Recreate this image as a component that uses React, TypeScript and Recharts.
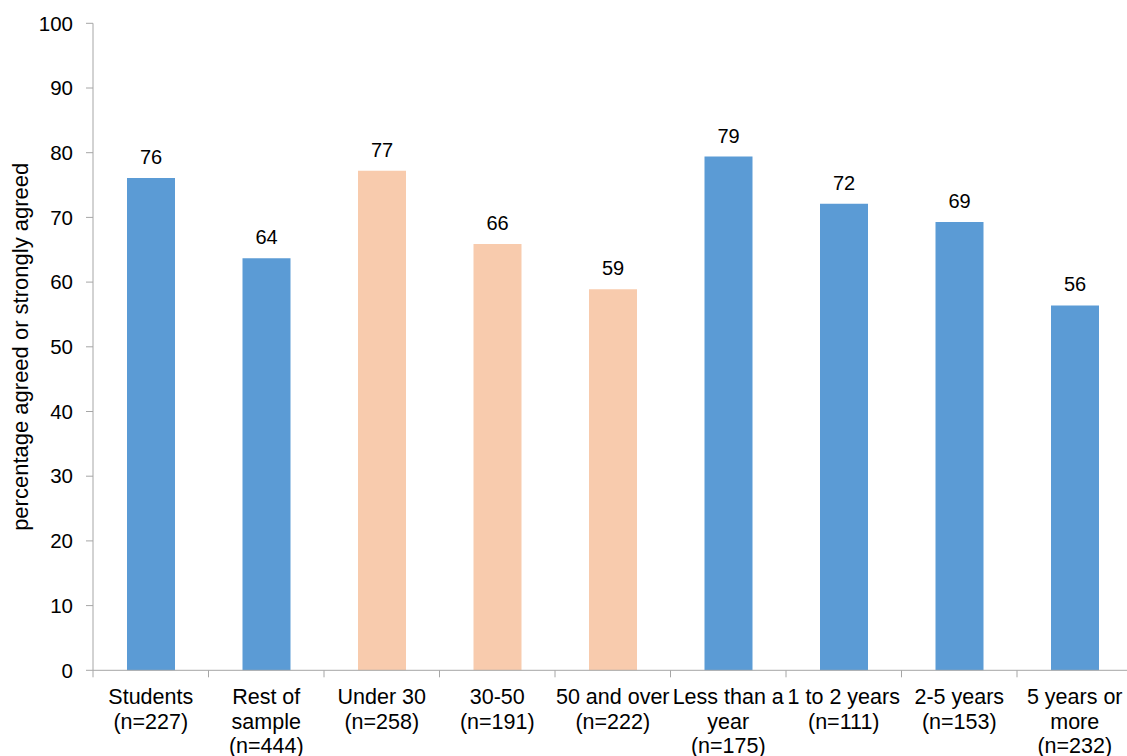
import React from "react";
import { BarChart, Bar, XAxis, YAxis, Cell, LabelList } from "recharts";

const FONT = '"Liberation Sans", Arial, sans-serif';
const AXIS_GREY = "#a6a6a6";
const BLUE = "#5b9bd5";
const PEACH = "#f8cbad";

// category labels, line breaks where the axis wraps them
const categories = [
  "Students\n(n=227)",
  "Rest of\nsample\n(n=444)",
  "Under 30\n(n=258)",
  "30-50\n(n=191)",
  "50 and over\n(n=222)",
  "Less than a\nyear\n(n=175)",
  "1 to 2 years\n(n=111)",
  "2-5 years\n(n=153)",
  "5 years or\nmore\n(n=232)",
];

// percentage agreed or strongly agreed
const agreed = [76.1, 63.7, 77.2, 65.9, 58.9, 79.4, 72.1, 69.3, 56.4];

// which breakdown each bar belongs to
const groups = ["status", "status", "age", "age", "age", "time", "time", "time", "time"];

const yTicks = [0, 10, 20, 30, 40, 50, 60, 70, 80, 90, 100];

const data = categories.map((name, i) => ({ name, value: agreed[i], group: groups[i] }));

const CHART_W = 1140;
const CHART_H = 756;
const Y_AXIS_W = 93;
const RIGHT = 7.5;
const BAND = (CHART_W - Y_AXIS_W - RIGHT) / categories.length;

function CategoryTick(props: any) {
  const { x, y, payload, index } = props;
  const lines = String(payload.value).split("\n");
  const left = x - BAND / 2;
  return (
    <g>
      <line x1={left} x2={left} y1={y} y2={y + 7} stroke={AXIS_GREY} />
      {index === categories.length - 1 && (
        <line x1={left + BAND} x2={left + BAND} y1={y} y2={y + 7} stroke={AXIS_GREY} />
      )}
      <text x={x} y={y + 34} textAnchor="middle" fontSize={21.5} fontFamily={FONT} fill="#000">
        {lines.map((l, i) => (
          <tspan key={i} x={x} dy={i === 0 ? 0 : 24.5}>
            {l}
          </tspan>
        ))}
      </text>
    </g>
  );
}

export default function App() {
  return (
    <div style={{ position: "absolute", left: 0, top: 0, width: 1127, height: 756, overflow: "hidden", background: "#fff" }}>
      <BarChart
        width={CHART_W}
        height={CHART_H}
        data={data}
        margin={{ top: 23.3, right: RIGHT, bottom: 0, left: 0 }}
        barCategoryGap={0}
      >
        <XAxis
          dataKey="name"
          interval={0}
          height={85.7}
          tickSize={0}
          tickMargin={0}
          tickLine={false}
          axisLine={{ stroke: AXIS_GREY }}
          tick={<CategoryTick />}
        />
        <YAxis
          width={Y_AXIS_W}
          domain={[0, 100]}
          ticks={yTicks}
          interval={0}
          tickSize={7}
          tickMargin={13}
          stroke={AXIS_GREY}
          tick={{ fill: "#000", fontSize: 20.5, fontFamily: FONT }}
          label={{
            value: "percentage agreed or strongly agreed",
            angle: -90,
            position: "insideLeft",
            textAnchor: "middle",
            offset: 20,
            fill: "#000",
            fontSize: 22,
            fontFamily: FONT,
          }}
        />
        <Bar dataKey="value" barSize={48} isAnimationActive={false}>
          {data.map((d, i) => (
            <Cell key={i} fill={d.group === "age" ? PEACH : BLUE} />
          ))}
          <LabelList
            dataKey="value"
            position="top"
            offset={14}
            formatter={(v: any) => Math.round(Number(v))}
            fill="#000"
            fontSize={20}
            fontFamily={FONT}
          />
        </Bar>
      </BarChart>
    </div>
  );
}
